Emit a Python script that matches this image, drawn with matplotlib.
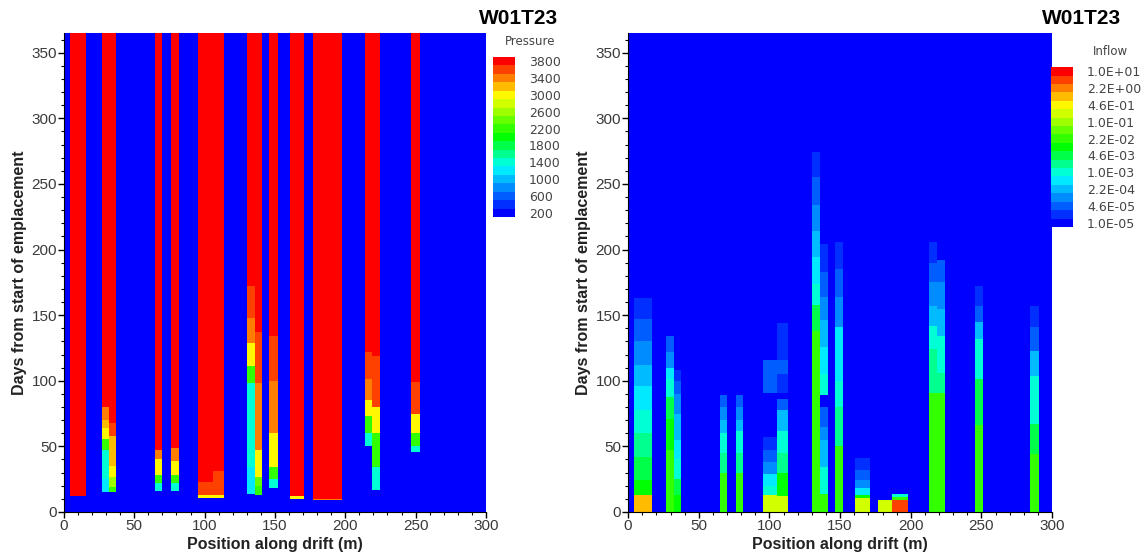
import numpy as np
import matplotlib.pyplot as plt
from matplotlib.colors import LinearSegmentedColormap, BoundaryNorm
from matplotlib.ticker import MultipleLocator

plt.rcParams['font.family'] = ['Liberation Sans', 'DejaVu Sans']

TITLE = "W01T23"
X_LABEL = "Position along drift (m)"
Y_LABEL = "Days from start of emplacement"

# grid of the simulation output (m along drift, days)
X_EDGES = np.arange(0, 300.5, 0.5)
DAY_EDGES = np.arange(0, 365.5, 0.5)

# pressure (Pa): x0, x1, day boundaries top -> bottom, value in each band
P_BACKGROUND = 200
P_COLUMNS = [
    (4, 16, [365, 12], [3800]),
    (27, 32, [365, 80, 70, 64, 56, 47, 25, 15], [3800, 3400, 3200, 3000, 2200, 1400, 1200]),
    (32, 37, [365, 68, 58, 35, 27, 19, 15], [3800, 3500, 3200, 3000, 2600, 2200]),
    (65, 70, [365, 47, 40, 28, 22, 16], [3800, 3400, 3000, 2200, 1400]),
    (76, 82, [365, 49, 39, 28, 22, 16], [3800, 3400, 3000, 2200, 1400]),
    (95, 106, [365, 23, 13, 11], [3800, 3500, 2900]),
    (106, 114, [365, 31, 13, 11], [3800, 3500, 2900]),
    (130, 135.5, [365, 172, 148, 129, 111, 98, 34, 14], [3800, 3600, 3300, 3000, 2200, 1400, 1200]),
    (135.5, 141, [365, 137, 98, 47, 27, 20, 13], [3800, 3500, 3300, 3000, 2400, 2200]),
    (146, 152, [365, 134, 100, 60, 34, 25, 18], [3800, 3600, 3400, 3000, 2200, 1400]),
    (161, 171, [365, 12, 10], [3800, 3000]),
    (177, 198, [365, 10, 9], [3800, 3400]),
    (214, 219, [365, 122, 101, 85, 73, 60, 50], [3800, 3500, 3300, 3000, 2200, 1400]),
    (219, 225, [365, 119, 80, 60, 34, 17], [3800, 3500, 3000, 2200, 1400]),
    (247, 253, [365, 99, 75, 60, 50, 46], [3800, 3500, 3000, 2200, 1400]),
]
P_LEVELS = np.arange(100, 3901, 200)
P_TICKS = np.arange(200, 3801, 400)

# inflow, stored as log10 of the value
Q_BACKGROUND = -5.0
Q_COLUMNS = [
    (4, 17, [163, 147, 130, 112, 96, 78, 60, 42, 24, 13, 0],
     [-4.67, -4.33, -4.0, -3.67, -3.33, -3.0, -2.67, -2.33, -2.0, 0.0]),
    (27, 32.5, [134, 122, 110, 101, 88, 71, 47, 0], [-4.5, -4.0, -3.5, -3.0, -2.5, -2.0, -1.83]),
    (32.5, 37.5, [108, 100, 90, 75, 55, 40, 25, 13, 0], [-4.67, -4.33, -4.0, -3.67, -3.33, -3.0, -2.33, -2.0]),
    (65, 70, [89, 80, 70, 60, 45, 30, 0], [-4.33, -4.0, -3.67, -3.0, -2.67, -1.83]),
    (76, 81.5, [89, 80, 70, 62, 45, 30, 0], [-4.33, -4.0, -3.67, -3.0, -2.67, -1.83]),
    (95.5, 105.5, [116, 91, 57, 47, 38, 29, 20, 13, 0], [-4.5, -5.0, -4.67, -4.33, -4.0, -3.33, -3.0, -0.67]),
    (105.5, 113, [144, 116, 105, 91, 86, 78, 62, 45, 30, 12, 0],
     [-4.67, -4.33, -4.67, -5.0, -4.33, -3.67, -3.0, -2.67, -2.0, -0.67]),
    (130, 136, [274, 255, 234, 214, 194, 174, 158, 138, 14, 0],
     [-4.67, -4.33, -4.0, -3.67, -3.33, -3.0, -2.33, -1.83, -1.67]),
    (136, 141.5, [204, 183, 164, 146, 126, 105, 89, 80, 65, 55, 34, 14, 0],
     [-4.67, -4.33, -4.0, -3.67, -3.33, -3.0, -5.0, -4.33, -4.0, -3.67, -3.0, -1.83]),
    (146.5, 152, [206, 185, 164, 141, 100, 80, 50, 0], [-4.67, -4.33, -4.0, -3.33, -3.0, -2.67, -1.83]),
    (160.5, 171, [41, 32, 24.5, 18, 13, 10.5, 0], [-4.67, -4.33, -4.0, -3.33, -2.0, -0.67]),
    (177, 187, [9.5, 0], [-0.67]),
    (187, 198, [13.5, 11.5, 9.5, 0], [-3.0, -1.83, 0.67]),
    (213, 218.5, [206, 190, 175, 157, 141.5, 124, 91, 0], [-4.67, -4.33, -4.0, -3.67, -3.0, -2.67, -1.83]),
    (218.5, 224.5, [192, 175, 155, 134, 106, 91, 0], [-4.5, -4.0, -3.67, -3.0, -2.67, -1.83]),
    (245.5, 251, [172, 157, 145, 132, 101, 66, 0], [-4.67, -4.33, -3.67, -3.0, -2.33, -1.83]),
    (284.5, 291, [157, 141, 123, 104, 67, 44, 0], [-4.67, -4.33, -3.67, -3.0, -2.33, -1.83]),
]
Q_LEVELS = np.arange(-5 - 1 / 6, 1.2, 1 / 3)
Q_TICKS = np.linspace(-5, 1, 10)


def build_field(columns, background):
    xc = 0.5 * (X_EDGES[:-1] + X_EDGES[1:])
    dc = 0.5 * (DAY_EDGES[:-1] + DAY_EDGES[1:])
    z = np.full((len(dc), len(xc)), background, dtype=float)
    for x0, x1, days, vals in columns:
        cols = (xc >= x0) & (xc < x1)
        for top, bot, v in zip(days[:-1], days[1:], vals):
            rows = (dc >= bot) & (dc < top)
            z[np.ix_(rows, cols)] = v
    return z


cmap = LinearSegmentedColormap.from_list(
    "tp_rainbow",
    [(0.0, (0, 0, 1)), (0.3, (0, 1, 1)), (0.5, (0, 1, 0)), (0.77, (1, 1, 0)), (1.0, (1, 0, 0))])

fig = plt.figure(figsize=(11.42, 5.57), dpi=100)


def draw_panel(rect, z, levels, ticks, ticklabels, cb_rect, cb_title, cb_title_xy, title_x):
    ax = fig.add_axes(rect)
    norm = BoundaryNorm(levels, cmap.N)
    mesh = ax.pcolormesh(X_EDGES, DAY_EDGES, z, cmap=cmap, norm=norm, antialiased=False)
    ax.set_xlim(0, 300)
    ax.set_ylim(0, 365)
    ax.xaxis.set_major_locator(MultipleLocator(50))
    ax.xaxis.set_minor_locator(MultipleLocator(10))
    ax.yaxis.set_major_locator(MultipleLocator(50))
    ax.yaxis.set_minor_locator(MultipleLocator(10))
    ax.tick_params(which='major', direction='out', length=4, width=1, labelsize=11,
                   labelcolor='#3a3a3a', pad=1)
    ax.tick_params(which='minor', direction='out', length=2, width=0.8)
    for s in ('top', 'right'):
        ax.spines[s].set_visible(False)
    ax.set_xlabel(X_LABEL, fontsize=11.5, fontweight='bold', color='#222222', labelpad=3)
    ax.set_ylabel(Y_LABEL, fontsize=11.5, fontweight='bold', color='#222222', labelpad=3)

    cax = fig.add_axes(cb_rect)
    cb = fig.colorbar(mesh, cax=cax, ticks=ticks)
    cb.outline.set_visible(False)
    cb.minorticks_off()
    cb.ax.set_yticklabels(ticklabels, fontfamily='DejaVu Sans')
    cax.tick_params(length=0, pad=10, labelsize=9, labelcolor='#444444')
    fig.text(cb_title_xy[0], cb_title_xy[1], cb_title, fontsize=8.5, color='#444444',
             family='DejaVu Sans', ha='center', va='center')
    fig.text(title_x, 0.967, TITLE, fontsize=15, fontweight='bold', ha='right', va='center')
    return ax


p_field = build_field(P_COLUMNS, P_BACKGROUND)
q_field = build_field(Q_COLUMNS, Q_BACKGROUND)

draw_panel([0.056, 0.0808, 0.3695, 0.86], p_field, P_LEVELS, P_TICKS,
           [str(v) for v in P_TICKS], [0.4317, 0.6104, 0.0193, 0.2873],
           "Pressure", (0.464, 0.925), 0.489)
draw_panel([0.550, 0.0808, 0.3713, 0.86], q_field, Q_LEVELS, Q_TICKS,
           [f"{10 ** v:.1E}" for v in Q_TICKS], [0.9203, 0.5925, 0.0193, 0.287],
           "Inflow", (0.972, 0.908), 0.982)

fig.savefig("out.png", dpi=100)
